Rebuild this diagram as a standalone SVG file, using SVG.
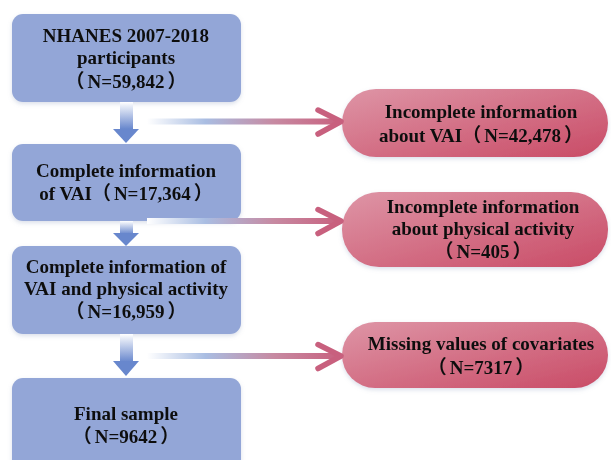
<svg xmlns="http://www.w3.org/2000/svg" width="611" height="460" viewBox="0 0 611 460">
<defs>
<style>
.box{fill:#93a6d7;}
.pill{fill:url(#pinkG);}
.t{font-family:"Liberation Serif","Noto Sans CJK SC",serif;font-weight:bold;font-size:19px;fill:#111;text-anchor:middle;}
.shaft{fill:url(#shaftG);}
.head{fill:#6887cd;}
.hl{fill:none;stroke-width:6;}
.chev{fill:none;stroke:#c8607e;stroke-width:5.5;stroke-linecap:round;stroke-linejoin:round;}
</style>
<linearGradient id="pinkG" x1="0" y1="0" x2="1" y2="1">
<stop offset="0" stop-color="#de95a6"/>
<stop offset="1" stop-color="#c94b66"/>
</linearGradient>
<linearGradient id="shaftG" x1="0" y1="0" x2="0" y2="1">
<stop offset="0" stop-color="#ffffff"/>
<stop offset="1" stop-color="#6887cd"/>
</linearGradient>
<linearGradient id="hG" gradientUnits="userSpaceOnUse" x1="147" y1="0" x2="342" y2="0">
<stop offset="0" stop-color="#ffffff"/>
<stop offset="0.3" stop-color="#a9bde2"/>
<stop offset="0.65" stop-color="#c78aa2"/>
<stop offset="1" stop-color="#c8607e"/>
</linearGradient>
<filter id="sh" x="-10%" y="-10%" width="120%" height="130%">
<feDropShadow dx="0" dy="2" stdDeviation="2" flood-color="#8899bb" flood-opacity="0.3"/>
</filter>
</defs>

<g id="n1" filter="url(#sh)">
<rect class="box" x="12" y="14" width="229" height="88" rx="11"/>
<text class="t" x="126" y="42">NHANES 2007-2018</text>
<text class="t" x="126" y="64">participants</text>
<text class="t" x="126" y="88">（<tspan dx="3">N=59,842</tspan><tspan dx="3">）</tspan></text>
</g>
<g id="n2" filter="url(#sh)">
<rect class="box" x="12" y="144" width="229" height="77" rx="11"/>
<text class="t" x="126" y="177">Complete information</text>
<text class="t" x="126" y="200">of VAI（<tspan dx="3">N=17,364</tspan><tspan dx="3">）</tspan></text>
</g>
<g id="n3" filter="url(#sh)">
<rect class="box" x="12" y="246" width="229" height="88" rx="11"/>
<text class="t" x="126" y="273">Complete information of</text>
<text class="t" x="126" y="295">VAI and physical activity</text>
<text class="t" x="126" y="318">（<tspan dx="3">N=16,959</tspan><tspan dx="3">）</tspan></text>
</g>
<g id="n4" filter="url(#sh)">
<rect class="box" x="12" y="378" width="229" height="100" rx="11"/>
<text class="t" x="126" y="420">Final sample</text>
<text class="t" x="126" y="443">（<tspan dx="3">N=9642</tspan><tspan dx="3">）</tspan></text>
</g>

<g id="e1" filter="url(#sh)">
<rect class="pill" x="342" y="89" width="266" height="68" rx="34"/>
<text class="t" x="481" y="118">Incomplete information</text>
<text class="t" x="481" y="142">about VAI（<tspan dx="3">N=42,478</tspan><tspan dx="3">）</tspan></text>
</g>
<g id="e2" filter="url(#sh)">
<rect class="pill" x="342" y="192" width="266" height="75" rx="37"/>
<text class="t" x="483" y="213">Incomplete information</text>
<text class="t" x="483" y="235">about physical activity</text>
<text class="t" x="483" y="258">（<tspan dx="3">N=405</tspan><tspan dx="3">）</tspan></text>
</g>
<g id="e3" filter="url(#sh)">
<rect class="pill" x="342" y="322" width="266" height="66" rx="33"/>
<text class="t" x="481" y="350">Missing values of covariates</text>
<text class="t" x="481" y="374">（<tspan dx="3">N=7317</tspan><tspan dx="3">）</tspan></text>
</g>

<g id="connectors">
<rect class="shaft" x="120" y="102" width="13" height="27"/>
<polygon class="head" points="113,129 139,129 126,143"/>
<rect class="shaft" x="120" y="221" width="13" height="13"/>
<polygon class="head" points="113,233 139,233 126,246"/>
<rect class="shaft" x="120" y="334" width="13" height="28"/>
<polygon class="head" points="113,361 139,361 126,376"/>

<line class="hl" stroke="url(#hG)" x1="147" y1="121.5" x2="339" y2="121.5"/>
<polyline class="chev" points="318,110 341,121.5 318,134"/>
<line class="hl" stroke="url(#hG)" x1="147" y1="221" x2="339" y2="221"/>
<polyline class="chev" points="318,209.5 341,221 318,233.5"/>
<line class="hl" stroke="url(#hG)" x1="147" y1="356" x2="339" y2="356"/>
<polyline class="chev" points="318,344.5 341,356 318,368.5"/>
</g>
</svg>
